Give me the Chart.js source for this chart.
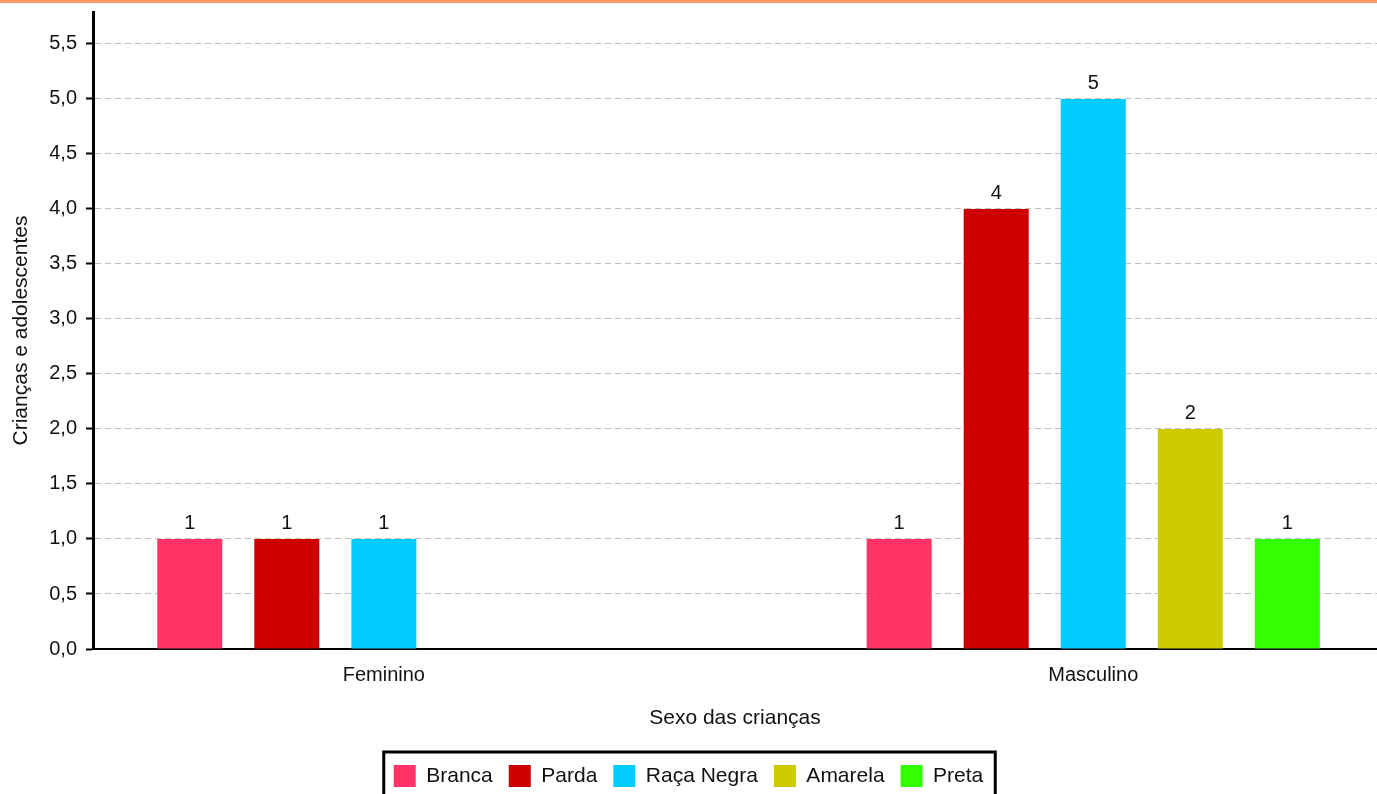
<!DOCTYPE html>
<html lang="pt-BR">
<head>
<meta charset="utf-8">
<title>Sexo das crianças</title>
<script src="https://cdn.jsdelivr.net/npm/chart.js@4/dist/chart.umd.min.js"></script>
<style>
  html, body { margin: 0; padding: 0; background: #fff; overflow: hidden; }
  #wrap { width: 1377px; height: 810px; }
</style>
</head>
<body>
<div id="wrap"><canvas id="myChart"></canvas></div>
<script>
// categorias e series
const categorias = ['Feminino', 'Masculino']
const branca = [1, 1]
const parda = [1, 4]
const racaNegra = [1, 5]
const amarela = [null, 2]
const preta = [null, 1]

const nomesSeries = ['Branca', 'Parda', 'Raça Negra', 'Amarela', 'Preta']
const coresSeries = ['#FF3366', '#CC0000', '#00CCFF', '#CCCC00', '#33FF00']
const valoresSeries = [branca, parda, racaNegra, amarela, preta]

const yTicks = [0, 0.5, 1, 1.5, 2, 2.5, 3, 3.5, 4, 4.5, 5, 5.5]

const fonte = '"Liberation Sans", Arial, sans-serif'

// linha laranja no topo + valores acima das barras + borda da legenda
const extras = {
  id: 'extras',
  beforeDraw(chart) {
    const c = chart.ctx
    c.save()
    c.fillStyle = '#FF9966'
    c.fillRect(0, 0, chart.width, 3)
    c.restore()
  },
  afterDatasetsDraw(chart) {
    const c = chart.ctx
    c.save()
    c.font = '20px ' + fonte
    c.fillStyle = '#111'
    c.textAlign = 'center'
    c.textBaseline = 'bottom'
    chart.data.datasets.forEach((ds, i) => {
      const meta = chart.getDatasetMeta(i)
      meta.data.forEach((bar, j) => {
        const v = ds.data[j].y
        if (v == null) return
        c.fillText(String(v), bar.x, bar.y - 5)
      })
    })
    c.restore()
  },
  afterDraw(chart) {
    const boxes = chart.legend.legendHitBoxes
    if (!boxes || !boxes.length) return
    const first = boxes[0]
    const last = boxes[boxes.length - 1]
    const c = chart.ctx
    c.save()
    c.strokeStyle = '#000'
    c.lineWidth = 3
    c.strokeRect(first.left - 10, first.top - 13, last.left + last.width - first.left + 22, 60)
    c.restore()
  }
}

const ctx = document.getElementById('myChart')
// eslint-disable-next-line no-unused-vars
const myChart = new Chart(ctx, {
  type: 'bar',
  data: {
    datasets: nomesSeries.map((nome, i) => ({
      label: nome,
      data: valoresSeries[i].map((v, k) => ({ x: k, y: v })),
      backgroundColor: coresSeries[i],
      borderWidth: 0,
      categoryPercentage: 0.684,
      barPercentage: 0.67
    }))
  },
  options: {
    responsive: true,
    maintainAspectRatio: false,
    animation: false,
    layout: { padding: { top: 12, bottom: 13, right: 0, left: 0 } },
    plugins: {
      tooltip: { enabled: false },
      legend: {
        position: 'bottom',
        labels: {
          boxWidth: 22,
          boxHeight: 22,
          padding: 16,
          color: '#111',
          font: { family: fonte, size: 21 }
        }
      }
    },
    scales: {
      x: {
        type: 'linear',
        offset: false,
        min: -0.41,
        max: 1.4,
        afterBuildTicks: (scale) => {
          scale.ticks = categorias.map((c, i) => ({ value: i }))
        },
        afterFit: (scale) => { scale.height = 100 },
        grid: { display: false, drawTicks: false, offset: false },
        border: { display: true, color: '#000', width: 2 },
        ticks: {
          padding: 14,
          color: '#111',
          font: { family: fonte, size: 20 },
          callback: (v) => categorias[v]
        },
        title: {
          display: true,
          text: 'Sexo das crianças',
          color: '#111',
          font: { family: fonte, size: 21 },
          padding: { top: 0, bottom: 18 }
        }
      },
      y: {
        min: 0,
        max: 5.79,
        afterBuildTicks: (scale) => {
          scale.ticks = yTicks.map((v) => ({ value: v }))
        },
        afterFit: (scale) => {
          scale.width = 93
          scale.paddingTop = 0
        },
        grid: {
          color: '#BEBEBE',
          lineWidth: 1,
          tickLength: 7,
          tickColor: '#000',
          tickWidth: 2,
          tickBorderDash: []
        },
        border: { display: true, color: '#000', width: 3, dash: [6, 4] },
        ticks: {
          padding: 9,
          color: '#111',
          font: { family: fonte, size: 20 },
          callback: (v) => v.toFixed(1).replace('.', ',')
        },
        title: {
          display: true,
          text: 'Crianças e adolescentes',
          color: '#111',
          font: { family: fonte, size: 21 },
          padding: { top: 9, bottom: 0 }
        }
      }
    }
  },
  plugins: [extras]
})
</script>
</body>
</html>
